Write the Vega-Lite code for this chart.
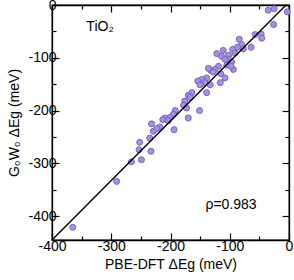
{
  "$schema": "https://vega.github.io/schema/vega-lite/v6.json",
  "width": 237,
  "height": 235,
  "autosize": {"type": "none"},
  "padding": {"left": 52, "top": 5, "right": 5, "bottom": 40},
  "background": "white",
  "config": {
    "font": "Liberation Sans",
    "view": {"stroke": "black", "strokeWidth": 1.3},
    "axis": {
      "grid": false,
      "domainColor": "black",
      "domainWidth": 1.3,
      "tickColor": "black",
      "tickWidth": 1.2,
      "labelColor": "black",
      "labelFont": "Liberation Sans",
      "labelFontSize": 14,
      "labelFlush": false,
      "titleFont": "Liberation Sans",
      "titleFontSize": 14,
      "titleFontWeight": "normal",
      "titleColor": "black"
    }
  },
  "layer": [
    {
      "data": {
        "values": [
          {"pbe": -35, "gw": -10}, {"pbe": -25, "gw": -7}, {"pbe": -3, "gw": -13}, {"pbe": -26, "gw": -37},
          {"pbe": -57, "gw": -56}, {"pbe": -47, "gw": -55}, {"pbe": -46, "gw": -63}, {"pbe": -64, "gw": -80},
          {"pbe": -84, "gw": -65}, {"pbe": -80, "gw": -75}, {"pbe": -87, "gw": -80}, {"pbe": -95, "gw": -84},
          {"pbe": -91, "gw": -91}, {"pbe": -77, "gw": -83}, {"pbe": -111, "gw": -86}, {"pbe": -114, "gw": -97},
          {"pbe": -102, "gw": -95}, {"pbe": -122, "gw": -92}, {"pbe": -102, "gw": -103}, {"pbe": -97, "gw": -108},
          {"pbe": -105, "gw": -114}, {"pbe": -119, "gw": -116}, {"pbe": -94, "gw": -122}, {"pbe": -125, "gw": -122},
          {"pbe": -132, "gw": -124}, {"pbe": -136, "gw": -120}, {"pbe": -98, "gw": -116}, {"pbe": -115, "gw": -130},
          {"pbe": -108, "gw": -138}, {"pbe": -139, "gw": -138}, {"pbe": -147, "gw": -141}, {"pbe": -154, "gw": -144},
          {"pbe": -142, "gw": -147}, {"pbe": -133, "gw": -151}, {"pbe": -116, "gw": -147}, {"pbe": -150, "gw": -151},
          {"pbe": -139, "gw": -166}, {"pbe": -164, "gw": -166}, {"pbe": -170, "gw": -171}, {"pbe": -167, "gw": -175},
          {"pbe": -176, "gw": -182}, {"pbe": -178, "gw": -190}, {"pbe": -173, "gw": -195}, {"pbe": -151, "gw": -200},
          {"pbe": -192, "gw": -200}, {"pbe": -195, "gw": -207}, {"pbe": -201, "gw": -213}, {"pbe": -209, "gw": -214},
          {"pbe": -213, "gw": -217}, {"pbe": -204, "gw": -219}, {"pbe": -170, "gw": -214}, {"pbe": -232, "gw": -225},
          {"pbe": -218, "gw": -231}, {"pbe": -194, "gw": -236}, {"pbe": -229, "gw": -239}, {"pbe": -223, "gw": -234},
          {"pbe": -252, "gw": -260}, {"pbe": -235, "gw": -252}, {"pbe": -253, "gw": -274}, {"pbe": -233, "gw": -277},
          {"pbe": -249, "gw": -293}, {"pbe": -266, "gw": -297}, {"pbe": -291, "gw": -334}, {"pbe": -365, "gw": -421},
          {"pbe": -128, "gw": -127}, {"pbe": -108, "gw": -103}
        ]
      },
      "mark": {"type": "circle", "size": 36, "fill": "#a591dc", "stroke": "#7c62c2", "strokeWidth": 1, "opacity": 1},
      "encoding": {
        "x": {
          "field": "pbe", "type": "quantitative",
          "scale": {"domain": [-400, 0], "nice": false, "zero": false},
          "axis": {
            "orient": "bottom",
            "title": "PBE-DFT ΔEg (meV)",
            "values": [-400, -350, -300, -250, -200, -150, -100, -50, 0],
            "labelExpr": "datum.value % 100 === 0 ? '' + datum.value : ''",
            "tickSize": {"condition": {"test": "datum.value % 100 === 0", "value": -7}, "value": -4},
            "labelPadding": 6,
            "titlePadding": 4
          }
        },
        "y": {
          "field": "gw", "type": "quantitative",
          "scale": {"domain": [-445, 0], "nice": false, "zero": false},
          "axis": {
            "orient": "left",
            "title": "G₀W₀ ΔEg (meV)",
            "values": [-400, -350, -300, -250, -200, -150, -100, -50, 0],
            "labelExpr": "datum.value % 100 === 0 ? '' + datum.value : ''",
            "tickSize": {"condition": {"test": "datum.value % 100 === 0", "value": -7}, "value": -4},
            "labelPadding": 3,
            "titlePadding": 6
          }
        }
      }
    },
    {
      "data": {"values": [{"pbe": -400, "gw": -445}, {"pbe": -5, "gw": 0}]},
      "mark": {"type": "line", "color": "black", "strokeWidth": 1.4},
      "encoding": {
        "x": {
          "field": "pbe", "type": "quantitative",
          "scale": {"domain": [-400, 0], "nice": false, "zero": false},
          "axis": {
            "orient": "top", "title": null, "labels": false,
            "values": [-400, -350, -300, -250, -200, -150, -100, -50, 0],
            "tickSize": {"condition": {"test": "datum.value % 100 === 0", "value": -7}, "value": -4}
          }
        },
        "y": {
          "field": "gw", "type": "quantitative",
          "scale": {"domain": [-445, 0], "nice": false, "zero": false},
          "axis": {
            "orient": "right", "title": null, "labels": false,
            "values": [-400, -350, -300, -250, -200, -150, -100, -50, 0],
            "tickSize": {"condition": {"test": "datum.value % 100 === 0", "value": -7}, "value": -4}
          }
        }
      }
    },
    {
      "data": {"values": [{"pbe": -342, "gw": -42, "label": "TiO₂"}, {"pbe": -141, "gw": -379, "label": "ρ=0.983"}]},
      "mark": {"type": "text", "align": "left", "baseline": "middle", "fontSize": 14, "font": "Liberation Sans", "color": "black"},
      "encoding": {
        "x": {"field": "pbe", "type": "quantitative", "scale": {"domain": [-400, 0], "nice": false, "zero": false}, "axis": null},
        "y": {"field": "gw", "type": "quantitative", "scale": {"domain": [-445, 0], "nice": false, "zero": false}, "axis": null},
        "text": {"field": "label", "type": "nominal"}
      }
    }
  ],
  "resolve": {"axis": {"x": "independent", "y": "independent"}}
}
